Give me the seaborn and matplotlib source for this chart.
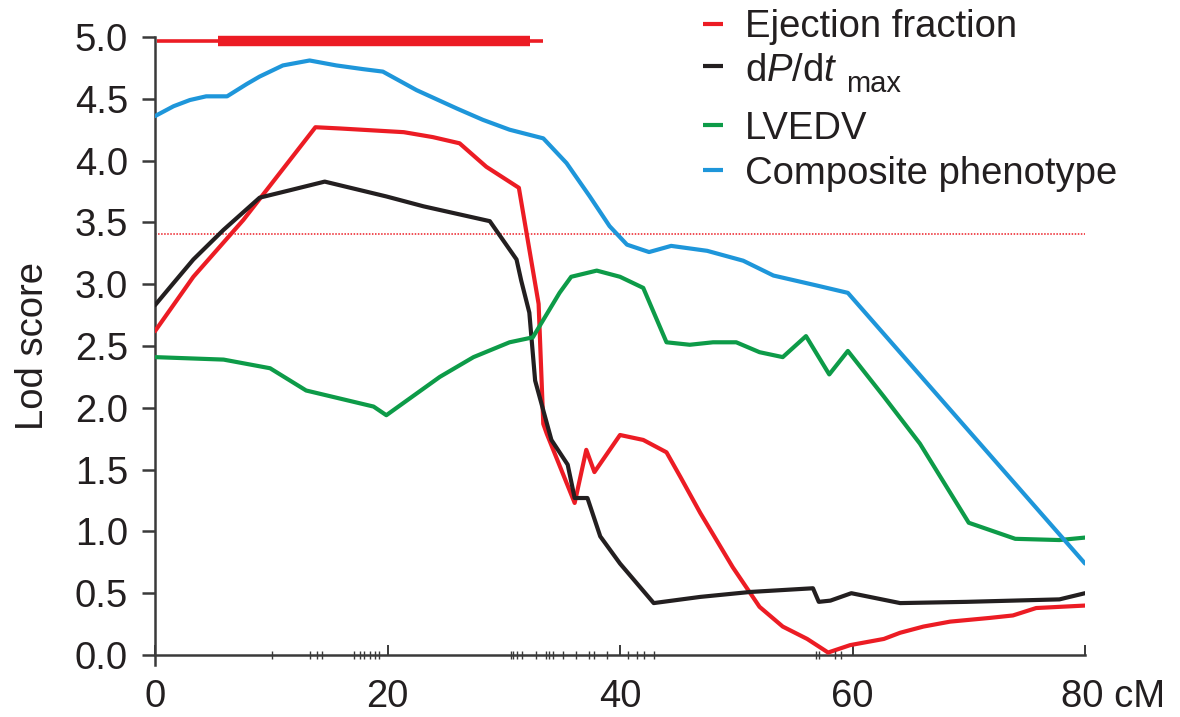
import numpy as np
import pandas as pd
import matplotlib
matplotlib.use("Agg")
import matplotlib.pyplot as plt
import matplotlib.transforms as mtransforms
from matplotlib.lines import Line2D
import seaborn as sns

# ---------------- data ----------------
ef_cm = [0.0, 3.3, 7.6, 13.8, 15.9, 21.4, 23.9, 26.2, 28.5, 31.3, 33.0, 33.4, 33.7,
         36.1, 37.1, 37.8, 40.0, 42.0, 44.0, 45.2, 46.9, 48.3, 49.7, 52.0, 54.0,
         56.1, 57.9, 59.8, 62.7, 64.1, 66.1, 68.4, 71.8, 73.8, 75.8, 80.0]
ef_lod = [2.62, 3.06, 3.52, 4.27, 4.26, 4.23, 4.19, 4.14, 3.95, 3.78, 2.84, 1.87, 1.79,
          1.23, 1.66, 1.48, 1.78, 1.74, 1.64, 1.44, 1.15, 0.93, 0.71, 0.39, 0.23,
          0.13, 0.02, 0.08, 0.13, 0.18, 0.23, 0.27, 0.30, 0.32, 0.38, 0.40]

dpdt_cm = [0.0, 1.6, 3.3, 5.9, 9.0, 11.6, 14.6, 19.9, 23.1, 28.8, 31.1, 31.5, 32.2,
           32.7, 34.1, 35.5, 36.1, 37.2, 38.3, 40.0, 42.9, 46.9, 51.2, 56.6, 57.1,
           58.1, 59.9, 64.1, 69.8, 77.8, 80.0]
dpdt_lod = [2.83, 3.01, 3.20, 3.44, 3.70, 3.76, 3.83, 3.71, 3.63, 3.51, 3.20, 3.03, 2.77,
            2.22, 1.74, 1.54, 1.27, 1.27, 0.96, 0.74, 0.42, 0.47, 0.51, 0.54, 0.43,
            0.44, 0.50, 0.42, 0.43, 0.45, 0.50]

lvedv_cm = [0.0, 5.9, 9.9, 13.0, 18.8, 19.9, 24.5, 27.4, 30.5, 32.5, 34.8, 35.8, 38.0,
            40.0, 42.0, 44.0, 46.0, 48.0, 50.0, 52.0, 54.0, 56.0, 58.0, 59.6, 62.7,
            65.8, 70.0, 74.0, 77.8, 80.0]
lvedv_lod = [2.41, 2.39, 2.32, 2.14, 2.01, 1.94, 2.25, 2.41, 2.53, 2.57, 2.93, 3.06, 3.11,
             3.06, 2.97, 2.53, 2.51, 2.53, 2.53, 2.45, 2.41, 2.58, 2.27, 2.46, 2.09,
             1.71, 1.07, 0.94, 0.93, 0.95]

comp_cm = [0.0, 1.6, 3.0, 4.4, 6.2, 7.9, 9.0, 11.0, 13.3, 15.6, 17.9, 19.6, 22.5, 26.0,
           28.2, 30.5, 33.4, 35.4, 37.4, 39.1, 40.6, 42.5, 44.4, 47.5, 50.6, 53.2,
           56.9, 59.6, 80.0]
comp_lod = [4.36, 4.44, 4.49, 4.52, 4.52, 4.62, 4.68, 4.77, 4.81, 4.77, 4.74, 4.72, 4.57,
            4.42, 4.33, 4.25, 4.18, 3.98, 3.71, 3.47, 3.32, 3.26, 3.31, 3.27, 3.19,
            3.07, 2.99, 2.93, 0.74]

trait_names = ["Ejection fraction", "dP/dt max", "LVEDV", "Composite phenotype"]
legend_main = ["Ejection fraction", r"d$\mathit{P}$/d$\mathit{t}$", "LVEDV",
               "Composite phenotype"]
legend_sub = [None, "max", None, None]

threshold = 3.41                     # significance threshold (dotted line)
ci_y = 4.97                          # confidence-interval bar level
ci_outer = [0.2, 33.4]               # thin part of the bar
ci_inner = [5.4, 32.3]               # thick part of the bar

marker_cm = [10.05, 13.3, 13.9, 14.4, 17.1, 17.6, 18.0, 18.5, 18.9, 19.3,
             30.6, 30.8, 31.1, 31.6, 32.8, 33.6, 33.9, 34.2, 35.1, 36.2, 37.3,
             37.8, 38.9, 40.7, 41.5, 42.1, 42.9, 56.9, 57.1, 58.5, 59.0]

xticks = [0, 20, 40, 60, 80]
xtick_labels = ["0", "20", "40", "60", "80 cM"]
yticks = [0.0, 0.5, 1.0, 1.5, 2.0, 2.5, 3.0, 3.5, 4.0, 4.5, 5.0]
ylabel = "Lod score"

# ---------------- styling ----------------
RED = "#ec1c24"
BLACK = "#231f20"
GREEN = "#0d9b48"
BLUE = "#1e96da"
AXC = "#3a3a3a"
TXT = "#231f20"

sns.set_style("ticks")
plt.rcParams["font.family"] = ["Liberation Sans", "DejaVu Sans"]
plt.rcParams["mathtext.fontset"] = "custom"
plt.rcParams["mathtext.rm"] = "Liberation Sans"
plt.rcParams["mathtext.it"] = "Liberation Sans:italic"
plt.rcParams["mathtext.bf"] = "Liberation Sans:bold"

FS = 27.5
FS_SUB = 21
W, H = 1180, 717

df = pd.concat([
    pd.DataFrame({"cM": ef_cm, "lod": ef_lod, "trait": trait_names[0]}),
    pd.DataFrame({"cM": dpdt_cm, "lod": dpdt_lod, "trait": trait_names[1]}),
    pd.DataFrame({"cM": lvedv_cm, "lod": lvedv_lod, "trait": trait_names[2]}),
    pd.DataFrame({"cM": comp_cm, "lod": comp_lod, "trait": trait_names[3]}),
], ignore_index=True)
colors = [RED, BLACK, GREEN, BLUE]
palette = dict(zip(trait_names, colors))

fig = plt.figure(figsize=(W / 100, H / 100), dpi=100)
ax = fig.add_axes([155 / W, 62 / H, 930 / W, 618 / H])

sns.lineplot(data=df, x="cM", y="lod", hue="trait", hue_order=trait_names,
             palette=palette, estimator=None, sort=False, linewidth=3.0,
             ax=ax, legend=False, zorder=3)

ax.axhline(threshold, color=RED, lw=1.1, ls=(0, (1, 1)), zorder=2)
ax.plot(ci_outer, [ci_y, ci_y], color=RED, lw=2.6, solid_capstyle="butt",
        clip_on=False, zorder=4)
ax.plot(ci_inner, [ci_y, ci_y], color=RED, lw=7.5, solid_capstyle="butt",
        clip_on=False, zorder=4)
ax.scatter(marker_cm, np.zeros(len(marker_cm)), marker="|", s=30, color=AXC,
           linewidths=1.0, clip_on=False, zorder=5)

ax.set_xlim(0, 80)
ax.set_ylim(0, 5.0)
ax.set_xticks(xticks)
ax.set_xticklabels(xtick_labels)
ax.set_yticks(yticks)
ax.set_yticklabels([f"{v:.1f}" for v in yticks])
ax.tick_params(axis="x", direction="in", length=7, width=1.4, color=AXC,
               labelsize=FS, labelcolor=TXT, pad=17)
ax.tick_params(axis="y", direction="out", length=9.5, width=1.8, color=AXC,
               labelsize=FS, labelcolor=TXT, pad=10)
sns.despine(ax=ax)
for s in ("left", "bottom"):
    ax.spines[s].set_color(AXC)
    ax.spines[s].set_linewidth(1.8)
ax.spines["left"].set_bounds(-0.08, 5.0)

# shift the last x label ("80 cM") so that "80" sits under its tick
last = ax.xaxis.get_major_ticks()[-1].label1
last.set_transform(last.get_transform() +
                   mtransforms.ScaledTranslation(28 / 100, 0, fig.dpi_scale_trans))

ax.set_xlabel("")
ax.set_ylabel(ylabel, fontsize=FS, color=TXT)
ax.yaxis.set_label_coords(-0.112, 0.5)

# legend drawn as short line segments + labels (figure pixel layout)
baselines = [37, 81, 139, 184]
handle_y = [24, 66, 125, 170]
renderer = fig.canvas.get_renderer()
for main, sub, col, yb, yh in zip(legend_main, legend_sub, colors, baselines, handle_y):
    fig.add_artist(Line2D([703 / W, 723 / W], [1 - yh / H, 1 - yh / H],
                          transform=fig.transFigure, color=col, lw=3.0,
                          solid_capstyle="butt"))
    t = fig.text(745 / W, 1 - yb / H, main, fontsize=FS, color=TXT,
                 ha="left", va="baseline")
    if sub:
        x_end = t.get_window_extent(renderer=renderer).x1
        fig.text((x_end + 8) / W, 1 - (yb + 11) / H, sub, fontsize=FS_SUB,
                 color=TXT, ha="left", va="baseline")

fig.savefig("out.png", dpi=100)
